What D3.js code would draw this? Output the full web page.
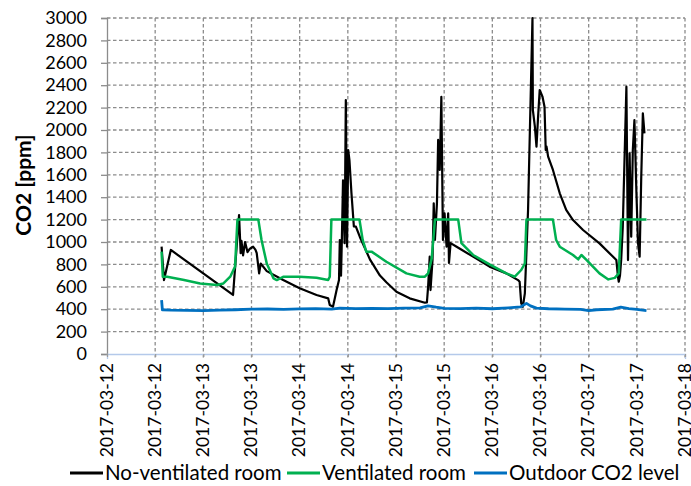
<!DOCTYPE html>
<html><head><meta charset="utf-8">
<script src="https://cdn.jsdelivr.net/npm/d3@7"></script>
<style>
html,body{margin:0;padding:0;background:#fff;}
svg{display:block;font-family:Lato,"Open Sans",sans-serif;}
</style></head>
<body>
<svg id="chart" width="691" height="486"></svg>
<script>
// ---- data (hours since 2017-03-12 00:00, CO2 ppm) ----
const seriesNames = ["No-ventilated room", "Ventilated room", "Outdoor CO2 level"];
const seriesColors = ["#000000", "#00B050", "#0070C0"];

const noVentHours = [13.6,14.2,15.9,31.4,32.9,33.3,33.5,33.9,34.4,35.0,35.6,36.4,37.0,37.3,37.9,38.3,39.8,43.9,48.0,52.2,55.1,55.5,56.3,57.2,57.8,58.0,58.3,58.5,58.8,59.2,59.5,59.8,60.1,60.4,60.9,61.5,62.0,63.0,65.5,68.0,69.6,72.1,75.4,79.2,79.7,80.0,80.4,80.6,81.1,81.4,81.7,82.2,82.5,82.9,83.3,83.7,84.1,84.6,85.0,85.2,85.6,87.1,91.2,95.3,99.5,102.4,102.8,103.2,103.6,104.1,104.9,106.0,106.1,106.6,107.0,107.4,107.8,108.5,109.0,109.3,109.5,109.9,111.1,112.8,114.4,116.1,118.6,122.7,126.9,127.3,127.5,127.8,128.1,128.5,129.4,129.8,130.2,130.6,131.0,131.4,131.9,132.3,132.7,133.1,133.5,133.9];
const noVentValues = [958,660,929,527,1241,900,1010,880,1000,910,940,958,930,900,720,808,740,660,587,527,497,437,422,571,660,1018,700,1000,1550,990,2268,958,1821,1732,1437,1140,1137,1045,845,700,640,556,497,458,460,601,869,571,839,1345,1018,1345,1911,1643,2297,1018,1256,958,1256,813,990,958,869,780,720,660,645,452,422,542,1286,3000,2178,2030,1851,2119,2357,2297,2208,1821,1851,1762,1643,1435,1286,1196,1107,988,839,690,645,700,840,1137,2387,839,1792,1047,1821,2089,1435,988,869,1583,2149,1970];

const ventHours = [13.6,13.9,15.0,19.2,23.2,27.4,29.0,30.7,31.9,32.5,37.7,38.5,39.8,41.5,42.3,44.0,48.0,52.2,55.1,55.5,55.9,62.9,63.7,64.6,65.9,69.6,74.6,77.9,79.2,80.0,80.9,81.7,87.5,88.3,91.2,95.3,99.5,101.6,103.2,104.1,104.5,111.1,111.9,112.8,116.1,117.4,118.2,119.5,122.7,124.9,126.5,127.5,128.1,134.4];
const ventValues = [914,690,690,660,630,616,630,690,780,1200,1200,1018,808,675,660,690,690,680,660,690,1200,1200,1018,914,914,824,720,690,690,720,854,1200,1200,990,884,800,720,690,750,808,1200,1200,1018,958,884,845,884,839,720,666,680,720,1200,1200];

const outdoorHours = [13.6,13.8,16,20,24,28,32,36,40,44,48,52,56,58,62,66,70,74,78,80,82,84,88,92,96,100,103,104.5,105.5,107,110,114,118,120,122,126,128,130,132,134.4];
const outdoorValues = [482,395,392,390,388,392,395,400,402,398,403,405,400,410,405,408,406,410,412,430,418,408,405,410,404,412,420,452,430,410,404,400,398,388,395,400,418,405,398,387];

const yTicks = [0,200,400,600,800,1000,1200,1400,1600,1800,2000,2200,2400,2600,2800,3000];
const yLabel = "CO2 [ppm]";
const startDate = new Date(2017, 2, 12, 0, 0);
const endDate = new Date(2017, 2, 18, 0, 0);

// ---- layout ----
const svg = d3.select("#chart");
const L = 107, R = 685, T = 18, B = 354;
const x = d3.scaleTime().domain([startDate, endDate]).range([L, R]);
const y = d3.scaleLinear().domain([0, 3000]).range([B, T]);
const toDate = h => new Date(startDate.getTime() + h * 3600 * 1000);
const xTicks = d3.timeHour.every(12).range(startDate, d3.timeHour.offset(endDate, 1));
const fmt = d3.timeFormat("%Y-%m-%d");

// horizontal gridlines
svg.append("g").selectAll("line").data(yTicks.filter(v => v > 0)).join("line")
  .attr("x1", L).attr("x2", R).attr("y1", d => y(d)).attr("y2", d => y(d))
  .attr("stroke", "#8c8c8c").attr("stroke-width", 1.3).attr("stroke-dasharray", "3.5,2.5");
// vertical gridlines
svg.append("g").selectAll("line").data(xTicks.slice(1)).join("line")
  .attr("x1", d => x(d)).attr("x2", d => x(d)).attr("y1", T).attr("y2", B + 5)
  .attr("stroke", "#8c8c8c").attr("stroke-width", 1.3).attr("stroke-dasharray", "3.5,2.5");

// y axis
const yAxis = svg.append("g").attr("transform", `translate(${L},0)`)
  .call(d3.axisLeft(y).tickValues(yTicks).tickSize(6).tickPadding(14).tickFormat(d3.format("d")));
yAxis.select(".domain").attr("stroke", "#8c8c8c").attr("stroke-width", 1.3);
yAxis.selectAll(".tick line").attr("stroke", "#8c8c8c").attr("stroke-width", 1.3);
yAxis.selectAll("text").attr("font-size", 18).attr("fill", "#000").attr("font-family", "Lato");

// x axis
const xAxis = svg.append("g").attr("transform", `translate(0,${B})`)
  .call(d3.axisBottom(x).tickValues(xTicks).tickSize(5).tickFormat(fmt));
xAxis.select(".domain").attr("stroke", "#b4c9ea").attr("stroke-width", 1.3);
xAxis.selectAll(".tick line").attr("stroke", "#9a9a9a").attr("stroke-width", 1.2).attr("stroke-dasharray", "3,2");
xAxis.selectAll("text")
  .attr("font-size", 17.5).attr("fill", "#000").attr("font-family", "Lato")
  .attr("transform", "rotate(-90)")
  .attr("text-anchor", "end").attr("x", -9).attr("y", 0).attr("dy", "0.3em");

// y label
svg.append("text").attr("transform", `translate(31,185) rotate(-90)`)
  .attr("text-anchor", "middle").attr("font-size", 21).attr("font-weight", "bold")
  .attr("font-family", "Lato").attr("fill", "#000").text(yLabel);

// series
svg.append("clipPath").attr("id", "plotclip").append("rect")
  .attr("x", L).attr("y", T - 2).attr("width", R - L).attr("height", B - T + 2);
const line = d3.line().x(d => x(toDate(d[0]))).y(d => y(d[1]));
const seriesData = [
  d3.zip(noVentHours, noVentValues),
  d3.zip(ventHours, ventValues),
  d3.zip(outdoorHours, outdoorValues)
];
const widths = [2.2, 2.5, 2.8];
svg.append("g").attr("clip-path", "url(#plotclip)").selectAll("path").data(seriesData).join("path")
  .attr("d", line).attr("fill", "none")
  .attr("stroke", (d, i) => seriesColors[i]).attr("stroke-width", (d, i) => widths[i])
  .attr("stroke-linejoin", "round");

// legend
const legendX = [70, 287, 474];
const lg = svg.append("g").attr("transform", "translate(0,473)");
seriesNames.forEach((name, i) => {
  lg.append("line").attr("x1", legendX[i]).attr("x2", legendX[i] + 33).attr("y1", 0).attr("y2", 0)
    .attr("stroke", seriesColors[i]).attr("stroke-width", 2.8);
  lg.append("text").attr("x", legendX[i] + 35).attr("y", 0).attr("dy", "0.35em")
    .attr("font-size", 20.5).attr("font-family", "Lato").attr("fill", "#000").text(name);
});
</script>
</body></html>
